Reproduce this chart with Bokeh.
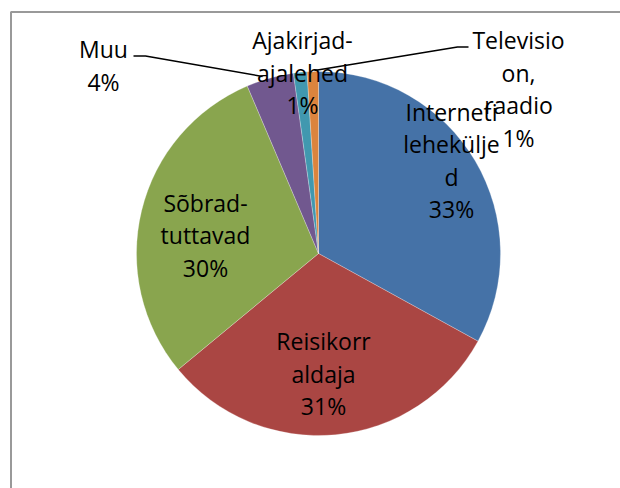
import math
from bokeh.plotting import figure
from bokeh.models import Range1d, ColumnDataSource
from bokeh.core.properties import value
from bokeh.embed import file_html
from bokeh.resources import INLINE

# ---- data ----
categories = ["Interneti leheküljed", "Reisikorraldaja", "Sõbrad-tuttavad",
              "Muu", "Ajakirjad-ajalehed", "Televisioon, raadio"]
shares = [33.0, 31.0, 29.6, 4.2, 1.2, 1.0]
pct_labels = ["33%", "31%", "30%", "4%", "1%", "1%"]
wrapped_names = [["Interneti", "lehekülje", "d"], ["Reisikorr", "aldaja"], ["Sõbrad-", "tuttavad"],
                 ["Muu"], ["Ajakirjad-", "ajalehed"], ["Televisio", "on,", "raadio"]]
colors = ["#4572A7", "#AA4643", "#89A54E", "#71588F", "#4198AF", "#DB843D"]

# ---- layout (screen px) ----
W, H = 620, 488
def sy(y):  # screen y -> data y
    return 488 - y

cx, cy, R = 318, sy(253), 182

total = sum(shares)
starts, ends = [], []
acc = 0.0
for s in shares:
    a0 = math.pi / 2 - 2 * math.pi * acc / total
    acc += s
    a1 = math.pi / 2 - 2 * math.pi * acc / total
    starts.append(a0)
    ends.append(a1)

src = ColumnDataSource(dict(cat=categories, start=starts, end=ends, color=colors))

p = figure(width=W, height=H, output_backend="svg", toolbar_location=None,
           x_range=Range1d(0, W), y_range=Range1d(488 - H, 488),
           min_border=0, outline_line_color=None)
p.axis.visible = False
p.grid.visible = False
p.background_fill_color = "white"
p.border_fill_color = "white"

# frame border (top and left visible)
p.line(x=[10.5, 10.5, 620], y=[0, sy(11.5), sy(11.5)], line_color="#999999", line_width=2)

p.wedge(x=cx, y=cy, radius=R, start_angle="start", end_angle="end", direction="clock",
        fill_color="color", line_color="white", line_width=0.5, line_alpha=0.5, source=src)

# leader lines
p.line(x=[133, 145, 262], y=[sy(55.5), sy(55.5), sy(76)], line_color="black", line_width=1.5)
p.line(x=[468, 457, 314], y=[sy(46.5), sy(46.5), sy(70)], line_color="black", line_width=1.5)

label_pos = [(451, 160), (323, 373), (205, 234.5), (103, 65), (302, 72), (518, 88.5)]
spacing = 32.5
lx, ly, lt = [], [], []
for (bx, by), names, pc in zip(label_pos, wrapped_names, pct_labels):
    lines = names + [pc]
    n = len(lines)
    for i, t in enumerate(lines):
        lx.append(bx)
        ly.append(sy(by + (i - (n - 1) / 2) * spacing))
        lt.append(t)
p.text(x=lx, y=ly, text=lt, text_align="center", text_baseline="middle",
       text_font=value("Open Sans"), text_font_size="23px", text_color="black")

open("out.html", "w").write(file_html(p, INLINE))
